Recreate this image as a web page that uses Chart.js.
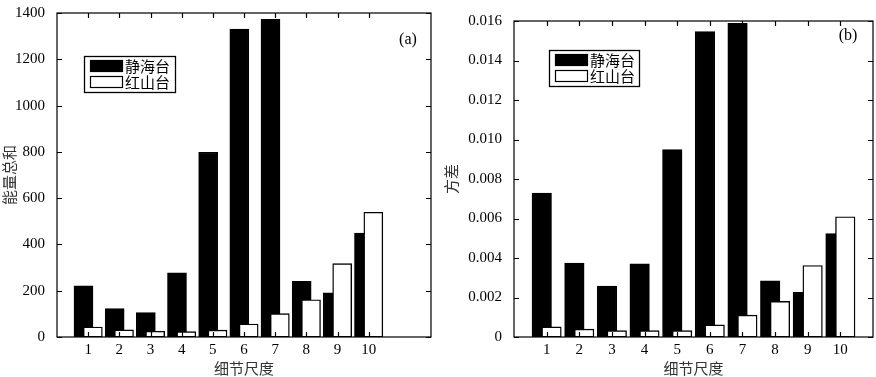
<!DOCTYPE html>
<html><head><meta charset="utf-8">
<script src="https://cdn.jsdelivr.net/npm/chart.js@4.4.1/dist/chart.umd.min.js"></script>
<style>
body{margin:0;background:#fff;width:876px;height:377px;overflow:hidden;position:relative}
canvas{position:absolute;top:0}
</style></head><body>
<canvas id="ca" width="436" height="377" style="left:0"></canvas>
<canvas id="cb" width="440" height="377" style="left:436px"></canvas>
<script>
const categories = [1,2,3,4,5,6,7,8,9,10];
const seriesNames = ['静海台','红山台'];
const energyJinghai = [221,123,105,277,798,1330,1373,241,191,449];
const energyHongshan = [43,31,25,23,30,56,101,161,317,539];
const varJinghai = [0.00729,0.00374,0.00258,0.00370,0.00949,0.01547,0.01588,0.00285,0.00226,0.00524];
const varHongshan = [0.00051,0.00040,0.00032,0.00032,0.00032,0.00061,0.00111,0.00180,0.00362,0.00609];
const yTicksA = [0,200,400,600,800,1000,1200,1400];
const yTicksB = [0,0.002,0.004,0.006,0.008,0.010,0.012,0.014,0.016];
const xTitle = '细节尺度';
const yTitleA = '能量总和';
const yTitleB = '方差';

const SERIF = '"Liberation Serif","DejaVu Serif",serif';
const CJK = '"Noto Sans CJK SC",sans-serif';

const framePlugin = {
  id:'frame',
  afterDatasetsDraw(chart, args, opts){
    const {ctx, chartArea:a, scales} = chart;
    ctx.save();
    ctx.strokeStyle='#000'; ctx.lineWidth=1.2;
    ctx.strokeRect(a.left, a.top, a.right-a.left, a.bottom-a.top);
    const L=5;
    ctx.beginPath();
    scales.y.ticks.forEach(t=>{
      const y=Math.round(scales.y.getPixelForValue(t.value))+0.5;
      ctx.moveTo(a.left,y); ctx.lineTo(a.left+L,y);
      ctx.moveTo(a.right,y); ctx.lineTo(a.right-L,y);
    });
    scales.x.ticks.forEach(t=>{
      const x=Math.round(scales.x.getPixelForValue(t.value))+0.5;
      ctx.moveTo(x,a.bottom); ctx.lineTo(x,a.bottom-L);
      ctx.moveTo(x,a.top); ctx.lineTo(x,a.top+L);
    });
    ctx.stroke();
    ctx.fillStyle='#000'; ctx.font='16px '+SERIF; ctx.textAlign='center'; ctx.textBaseline='middle';
    ctx.fillText(opts.label, a.right+opts.labelDx, a.top+opts.labelDy);
    const lx=a.left+opts.legX, ly=a.top+opts.legY, lw=opts.legW, lh=36;
    ctx.fillStyle='#fff'; ctx.fillRect(lx,ly,lw,lh);
    ctx.lineWidth=1.3; ctx.strokeRect(lx+0.5,ly+0.5,lw,lh);
    chart.data.datasets.forEach((d,i)=>{
      const ry=ly+4+i*16;
      ctx.fillStyle=d.backgroundColor; ctx.fillRect(lx+6,ry,33,11);
      ctx.strokeStyle='#000'; ctx.lineWidth=1.2; ctx.strokeRect(lx+6.5,ry+0.5,32,11);
      ctx.fillStyle='#000'; ctx.font='15px '+CJK; ctx.textAlign='left'; ctx.textBaseline='middle';
      ctx.fillText(d.label, lx+41, ry+6);
    });
    ctx.restore();
  }
};

function makeChart(id, black, white, yTicks, yMax, xMax, yTitle, fmt, pad, yW, opts){
  const off = 0.15;
  return new Chart(document.getElementById(id), {
    type:'bar',
    data:{datasets:[
      {label:seriesNames[0], data:categories.map((c,i)=>({x:c-off,y:black[i]})), backgroundColor:'#000', borderColor:'#000', borderWidth:1.2, barThickness:opts.bw, grouped:false, order:1, borderSkipped:false},
      {label:seriesNames[1], data:categories.map((c,i)=>({x:c+off,y:white[i]})), backgroundColor:'#fff', borderColor:'#000', borderWidth:1.4, barThickness:opts.bw, grouped:false, order:0, borderSkipped:false}
    ]},
    options:{
      responsive:false, animation:false,
      layout:{padding:pad},
      plugins:{legend:{display:false}, tooltip:{enabled:false}, frame:opts},
      scales:{
        x:{type:'linear', min:0, max:xMax, offset:false,
          afterBuildTicks(s){ s.ticks = categories.map(v=>({value:v})); },
          afterFit(s){ s.height = 40; },
          grid:{display:false, drawTicks:false}, border:{display:false},
          ticks:{color:'#000', font:{family:SERIF,size:15}, padding:4, maxRotation:0, autoSkip:false, callback:v=>String(v)},
          title:{display:true, text:xTitle, color:'#333', font:{family:CJK,size:15}, padding:{top:0,bottom:0}}
        },
        y:{type:'linear', min:0, max:yMax,
          afterBuildTicks(s){ s.ticks = yTicks.map(v=>({value:v})); },
          afterFit(s){ s.width = yW; },
          grid:{display:false}, border:{display:false},
          ticks:{color:'#000', font:{family:SERIF,size:15}, padding:4, callback:fmt},
          title:{display:true, text:yTitle, color:'#333', font:{family:CJK,size:15}, padding:{top:opts.ytPad,bottom:0}}
        }
      }
    },
    plugins:[framePlugin]
  });
}

makeChart('ca', energyJinghai, energyHongshan, yTicksA, 1400, 12, yTitleA, v=>String(v),
  {left:0,top:10,right:5,bottom:0}, 57,
  {bw:19, label:'(a)', labelDx:-23, labelDy:27, legX:27, legY:43, legW:91, ytPad:0});
makeChart('cb', varJinghai, varHongshan, yTicksB, 0.016, 11, yTitleB, v=> v===0?'0':v.toFixed(3),
  {left:0,top:21,right:3,bottom:0}, 78,
  {bw:19.5, label:'(b)', labelDx:-25, labelDy:15, legX:35, legY:29, legW:90, ytPad:6});
</script>
</body></html>
